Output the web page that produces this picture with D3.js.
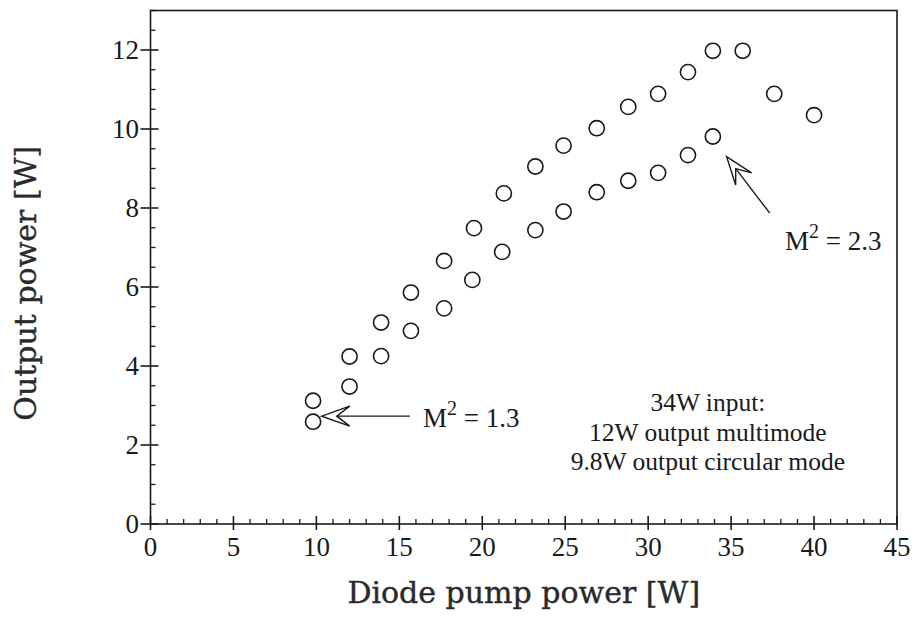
<!DOCTYPE html>
<html><head><meta charset="utf-8">
<script src="https://cdn.jsdelivr.net/npm/d3@7"></script>
<style>
html,body{margin:0;padding:0;background:#fff;}
svg{display:block;}
</style></head>
<body><svg id="c" width="916" height="636"></svg>
<script>
// ---- data ----
const pumpMulti = [9.8, 12.0, 13.9, 15.7, 17.7, 19.5, 21.3, 23.2, 24.9, 26.9, 28.8, 30.6, 32.4, 33.9, 35.7, 37.6, 40.0];
const outMulti  = [3.12, 4.24, 5.10, 5.86, 6.66, 7.49, 8.37, 9.05, 9.58, 10.02, 10.56, 10.89, 11.44, 11.98, 11.98, 10.89, 10.35];
const pumpCirc  = [9.8, 12.0, 13.9, 15.7, 17.7, 19.4, 21.2, 23.2, 24.9, 26.9, 28.8, 30.6, 32.4, 33.9];
const outCirc   = [2.59, 3.48, 4.25, 4.89, 5.46, 6.18, 6.89, 7.44, 7.91, 8.40, 8.69, 8.89, 9.34, 9.81];
const xTicks = [0, 5, 10, 15, 20, 25, 30, 35, 40, 45];
const yTicks = [0, 2, 4, 6, 8, 10, 12];
const xTitle = "Diode pump power [W]";
const yTitle = "Output power [W]";
const noteLines = ["34W input:", "12W output multimode", "9.8W output circular mode"];

const svg = d3.select("#c");
const L = 150.5, R = 897, T = 10.5, B = 524;
const x = d3.scaleLinear().domain([0, 45]).range([L, R]);
const y = d3.scaleLinear().domain([0, 13]).range([B, T]);
const ink = "#1a1a1a";
const serif = "'Liberation Serif','Times New Roman',serif";
const titleFont = "'DejaVu Serif',serif";

// frame
svg.append("rect").attr("x", L).attr("y", T).attr("width", R - L).attr("height", B - T)
  .attr("fill", "none").attr("stroke", ink).attr("stroke-width", 1.6);

// minor ticks
const g = svg.append("g").attr("stroke", ink);
d3.range(0, 45.01, 1).forEach(v => {
  if (v % 5 !== 0) g.append("line").attr("x1", x(v)).attr("x2", x(v)).attr("y1", B).attr("y2", B - 5).attr("stroke-width", 1.3);
});
d3.range(0, 13.01, 0.5).forEach(v => {
  if (v % 2 !== 0) g.append("line").attr("x1", L).attr("x2", L + 5).attr("y1", y(v)).attr("y2", y(v)).attr("stroke-width", 1.3);
});
// major ticks
xTicks.forEach(v => g.append("line").attr("x1", x(v)).attr("x2", x(v)).attr("y1", B - 8).attr("y2", B + 6).attr("stroke-width", 1.6));
yTicks.forEach(v => g.append("line").attr("x1", L - 10).attr("x2", L + 8).attr("y1", y(v)).attr("y2", y(v)).attr("stroke-width", 1.6));

// tick labels
svg.append("g").selectAll("text").data(xTicks).join("text")
  .attr("x", d => x(d)).attr("y", 556).attr("text-anchor", "middle")
  .attr("font-family", serif).attr("font-size", 27).attr("fill", ink).text(d => d);
svg.append("g").selectAll("text").data(yTicks).join("text")
  .attr("x", 139).attr("y", d => y(d)).attr("dy", "0.34em").attr("text-anchor", "end")
  .attr("font-family", serif).attr("font-size", 27).attr("fill", ink).text(d => d);

// axis titles
svg.append("text").attr("x", (L + R) / 2).attr("y", 603).attr("text-anchor", "middle")
  .attr("font-family", titleFont).attr("font-size", 30).attr("fill", "#2a2a2a")
  .attr("stroke", "#2a2a2a").attr("stroke-width", 0.4).text(xTitle);
svg.append("text").attr("transform", "translate(36," + ((T + B) / 2 + 16) + ") rotate(-90)")
  .attr("text-anchor", "middle")
  .attr("font-family", titleFont).attr("font-size", 30).attr("fill", "#2a2a2a")
  .attr("stroke", "#2a2a2a").attr("stroke-width", 0.4).text(yTitle);

// data points
const multi = pumpMulti.map((p, i) => [p, outMulti[i]]);
const circ = pumpCirc.map((p, i) => [p, outCirc[i]]);
[multi, circ].forEach(s => {
  svg.append("g").selectAll("circle").data(s).join("circle")
    .attr("cx", d => x(d[0])).attr("cy", d => y(d[1])).attr("r", 7.6)
    .attr("fill", "none").attr("stroke", ink).attr("stroke-width", 1.6);
});

// arrows
function arrow(tip, tail) {
  const tx = x(tip[0]), ty = y(tip[1]), ex = x(tail[0]), ey = y(tail[1]);
  const len = Math.hypot(ex - tx, ey - ty);
  const ux = (ex - tx) / len, uy = (ey - ty) / len, nx = -uy, ny = ux;
  const hl = 28, hw = 10, nl = 15;
  const b1 = [tx + ux * hl + nx * hw, ty + uy * hl + ny * hw];
  const b2 = [tx + ux * hl - nx * hw, ty + uy * hl - ny * hw];
  const nt = [tx + ux * nl, ty + uy * nl];
  svg.append("line").attr("x1", nt[0]).attr("y1", nt[1]).attr("x2", ex).attr("y2", ey)
    .attr("stroke", ink).attr("stroke-width", 1.4);
  svg.append("path").attr("d", `M${b1}L${tx},${ty}L${b2}L${nt}Z`)
    .attr("fill", "#fff").attr("stroke", ink).attr("stroke-width", 1.4).attr("stroke-linejoin", "miter");
}
arrow([10.32, 2.73], [15.64, 2.73]);
arrow([34.73, 9.30], [37.33, 7.87]);

// M^2 labels
function m2(px, py, val) {
  const t = svg.append("text").attr("x", x(px)).attr("y", y(py))
    .attr("font-family", serif).attr("font-size", 27).attr("fill", ink);
  t.append("tspan").text("M");
  t.append("tspan").attr("font-size", 20).attr("dy", -12).text("2");
  t.append("tspan").attr("dy", 12).text(" = " + val);
}
m2(16.43, 2.46, "1.3");
m2(38.25, 6.94, "2.3");

// note block
svg.append("g").selectAll("text").data(noteLines).join("text")
  .attr("x", x(33.6)).attr("y", (d, i) => y(2.86) + i * 29.5).attr("text-anchor", "middle")
  .attr("font-family", serif).attr("font-size", 25.5).attr("fill", ink).text(d => d);
</script></body></html>
